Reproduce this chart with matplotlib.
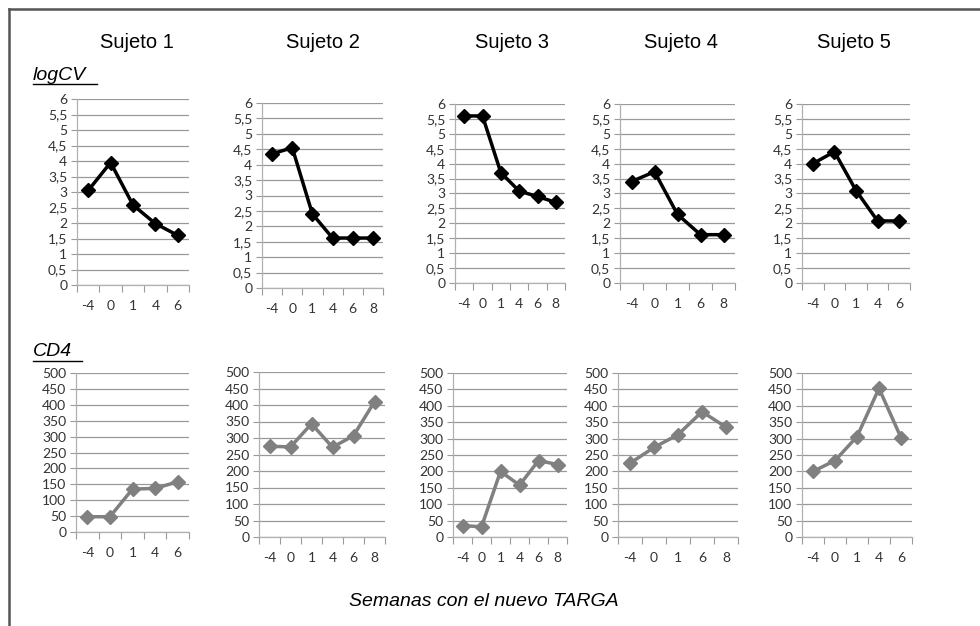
import matplotlib.pyplot as plt
from matplotlib.lines import Line2D

subjects = ['Sujeto 1', 'Sujeto 2', 'Sujeto 3', 'Sujeto 4', 'Sujeto 5']

weeks = [
    ['-4', '0', '1', '4', '6'],
    ['-4', '0', '1', '4', '6', '8'],
    ['-4', '0', '1', '4', '6', '8'],
    ['-4', '0', '1', '6', '8'],
    ['-4', '0', '1', '4', '6'],
]

logcv = [
    [3.05, 3.95, 2.58, 1.98, 1.6],
    [4.35, 4.55, 2.4, 1.62, 1.62, 1.62],
    [5.6, 5.6, 3.7, 3.08, 2.9, 2.7],
    [3.4, 3.73, 2.3, 1.62, 1.62],
    [4.0, 4.4, 3.1, 2.08, 2.08],
]

cd4 = [
    [48, 48, 135, 137, 158],
    [275, 273, 343, 272, 307, 410],
    [35, 31, 200, 158, 233, 221],
    [225, 273, 312, 382, 335],
    [200, 233, 306, 453, 303],
]

logcv_ticks = [0, 0.5, 1, 1.5, 2, 2.5, 3, 3.5, 4, 4.5, 5, 5.5, 6]
logcv_labels = ['0', '0,5', '1', '1,5', '2', '2,5', '3', '3,5', '4', '4,5', '5', '5,5', '6']
cd4_ticks = [0, 50, 100, 150, 200, 250, 300, 350, 400, 450, 500]

W, H = 980, 626

# plot boxes in pixels: left, top, right, bottom
top_boxes = [(77, 99, 189, 285), (262, 103, 383, 288), (455, 104, 565, 283),
             (620, 104, 735, 283), (802, 104, 910, 283)]
bot_boxes = [(76, 373, 189, 532), (259, 372, 385, 537), (453, 373, 567, 537),
             (618, 373, 738, 537), (802, 373, 912, 537)]
title_x = [137, 323, 512, 681, 854]


def px(box):
    l, t, r, b = box
    return [l / W, 1 - b / H, (r - l) / W, (b - t) / H]


def draw_panel(fig, box, labels, values, ticks, ticklabels, ymax, color):
    ax = fig.add_axes(px(box))
    n = len(labels)
    xs = [i + 0.5 for i in range(n)]
    ax.plot(xs, values, color=color, lw=2.5, marker='D', ms=7,
            markeredgecolor=color, markerfacecolor=color, zorder=3, clip_on=False)
    ax.set_xlim(0, n)
    ax.set_ylim(0, ymax)
    ax.set_yticks(ticks)
    ax.set_yticklabels(ticklabels)
    ax.set_xticks(range(n + 1))
    ax.set_xticklabels([])
    ax.set_xticks(xs, minor=True)
    ax.set_xticklabels(labels, minor=True)
    ax.tick_params(axis='x', which='major', length=5, width=0.8, color='#9a9a9a', direction='out')
    ax.tick_params(axis='x', which='minor', length=0, pad=11, labelsize=10, labelcolor='#333333')
    ax.tick_params(axis='y', length=4, width=0.8, color='#9a9a9a', pad=3, labelsize=10,
                   labelcolor='#333333')
    for lab in ax.get_xticklabels(minor=True) + ax.get_yticklabels():
        lab.set_family('Lato')
    ax.grid(axis='y', color='#999999', lw=0.9)
    ax.set_axisbelow(True)
    for s in ['top', 'right']:
        ax.spines[s].set_visible(False)
    for s in ['left', 'bottom']:
        ax.spines[s].set_color('#b0b0b0')
        ax.spines[s].set_linewidth(0.9)
    return ax


fig = plt.figure(figsize=(9.8, 6.26), dpi=100)

for i in range(5):
    draw_panel(fig, top_boxes[i], weeks[i], logcv[i], logcv_ticks, logcv_labels, 6, 'black')
    draw_panel(fig, bot_boxes[i], weeks[i], cd4[i], cd4_ticks, [str(t) for t in cd4_ticks],
               500, '#808080')
    fig.text(title_x[i] / W, 1 - 42 / H, subjects[i], ha='center', va='center',
             fontsize=14.5, family='Liberation Sans')

fig.text(33 / W, 1 - 75 / H, 'logCV', ha='left', va='center', fontsize=14,
         style='italic', family='Liberation Sans')
fig.add_artist(Line2D([33 / W, 97 / W], [1 - 84 / H, 1 - 84 / H], color='black', lw=1))
fig.text(33 / W, 1 - 352 / H, 'CD4', ha='left', va='center', fontsize=14,
         style='italic', family='Liberation Sans')
fig.add_artist(Line2D([33 / W, 82 / W], [1 - 361 / H, 1 - 361 / H], color='black', lw=1))

fig.text(484 / W, 1 - 602 / H, 'Semanas con el nuevo TARGA', ha='center', va='center',
         fontsize=14, style='italic', family='Liberation Sans')

# outer frame
fig.add_artist(Line2D([9 / W, 1], [1 - 9 / H, 1 - 9 / H], color='#555555', lw=1.8))
fig.add_artist(Line2D([9 / W, 9 / W], [0, 1 - 9 / H], color='#555555', lw=1.8))

fig.savefig('out.png', dpi=100, facecolor='white')
